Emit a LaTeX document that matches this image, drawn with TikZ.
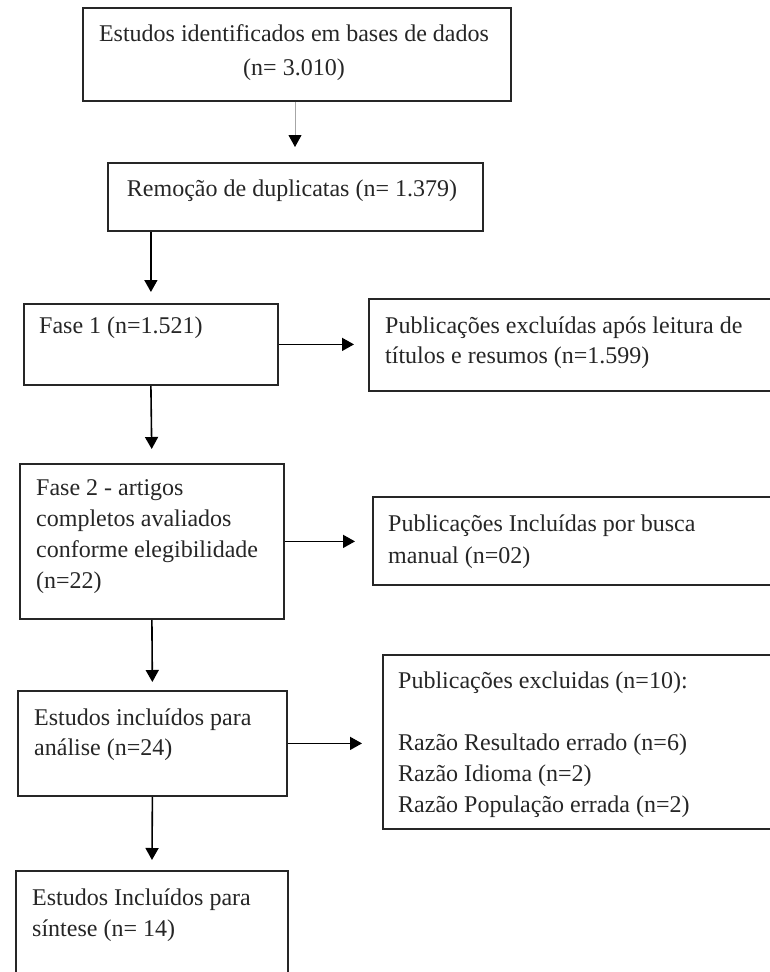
\documentclass[tikz,border=0pt]{standalone}
\usepackage{fontspec}
\setmainfont{Liberation Serif}
\usetikzlibrary{arrows.meta}
\newcommand{\boxlines}[2]{\parbox[t]{#1}{\raggedright #2}}
\begin{document}
\begin{tikzpicture}[x=1pt,y=-1pt,
  box/.style={draw=black!85, line width=1.8pt, inner sep=0pt, anchor=north west},
  lbl/.style={anchor=base west, inner sep=0pt, text=black!85},
  conn/.style={draw=black, line width=1.6pt, -{Triangle[length=12pt,width=13pt]}},
  thinconn/.style={draw=black!35, line width=0.9pt, -{Triangle[length=12pt,width=13pt,black]}},
]
\clip (0,0) rectangle (770,972);
\fill[white] (0,0) rectangle (770,972);

% boxes
\node[box, minimum width=428pt, minimum height=93pt]  (b1) at (82,7) {};
\node[box, minimum width=375pt, minimum height=68pt]  (b2) at (107,162) {};
\node[box, minimum width=254pt, minimum height=81pt]  (b3) at (23,303) {};
\node[box, minimum width=420pt, minimum height=92pt]  (b4) at (368,298) {};
\node[box, minimum width=264pt, minimum height=155pt] (b5) at (19,463) {};
\node[box, minimum width=420pt, minimum height=88pt]  (b6) at (372,496) {};
\node[box, minimum width=269pt, minimum height=105pt] (b7) at (17,690) {};
\node[box, minimum width=410pt, minimum height=174pt] (b9) at (382,654) {};
\node[box, minimum width=272pt, minimum height=120pt] (b8) at (15,870) {};

% texts
\node[lbl, anchor=base, font=\fontsize{24}{34}\selectfont] (t1) at (294,41)
  {\parbox[t]{420pt}{\centering Estudos identificados em bases de dados\\(n= 3.010)}};
\node[lbl, anchor=base, font=\fontsize{24}{30}\selectfont] (t2) at (292,196)
  {Remoção de duplicatas (n= 1.379)};
\node[lbl, font=\fontsize{24}{30}\selectfont] (t3) at (39,333) {Fase 1 (n=1.521)};
\node[lbl, font=\fontsize{24}{30}\selectfont] (t4) at (385,333)
  {\boxlines{380pt}{Publicações excluídas após leitura de\\títulos e resumos (n=1.599)}};
\node[lbl, font=\fontsize{24}{31}\selectfont] (t5) at (36,495)
  {\boxlines{240pt}{Fase 2 - artigos\\completos avaliados\\conforme elegibilidade\\(n=22)}};
\node[lbl, font=\fontsize{24}{32}\selectfont] (t6) at (388,531)
  {\boxlines{380pt}{Publicações Incluídas por busca\\manual (n=02)}};
\node[lbl, font=\fontsize{24}{30}\selectfont] (t7) at (34,725)
  {\boxlines{240pt}{Estudos incluídos para\\análise (n=24)}};
\node[lbl, font=\fontsize{24}{31}\selectfont] (t9) at (398,688)
  {\boxlines{370pt}{Publicações excluidas (n=10):\\[31pt]Razão Resultado errado (n=6)\\Razão Idioma (n=2)\\Razão População errada (n=2)}};
\node[lbl, font=\fontsize{24}{31}\selectfont] (t8) at (32,905)
  {\boxlines{240pt}{Estudos Incluídos para\\síntese (n= 14)}};

% connectors
\coordinate (a1) at (295,0);
\draw[thinconn, shorten >=15pt] (b1.south -| a1) -- (b2.north -| a1);
\draw[conn, shorten >=11pt] (b2.south -| b3.north) -- (b3.north);
\draw[conn, shorten >=14pt] (b3.east) -- (b3.east -| b4.west);
\draw[conn, shorten >=14pt] (b3.south) -- (b5.north);
\draw[conn, shorten >=17pt] (b5.east) -- (b5.east -| b6.west);
\draw[conn, shorten >=8pt] (b5.south) -- (b7.north);
\draw[conn, shorten >=20pt] (b7.east) -- (b7.east -| b9.west);
\draw[conn, shorten >=10pt] (b7.south) -- (b8.north);
\end{tikzpicture}
\end{document}
